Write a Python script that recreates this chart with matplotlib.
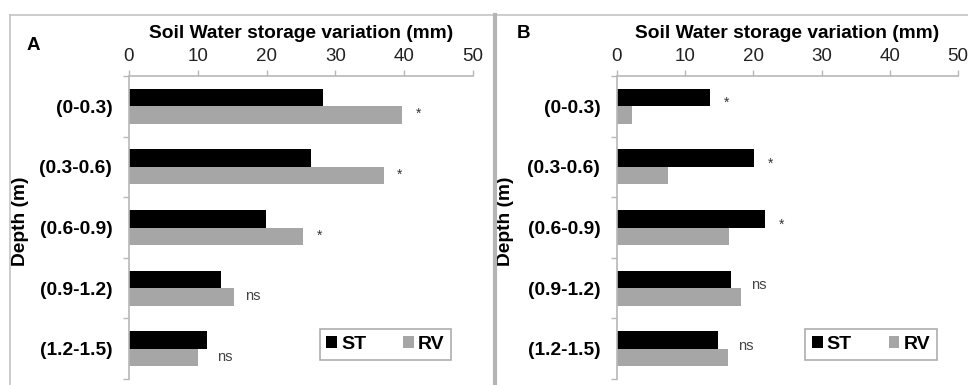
import matplotlib.pyplot as plt
import numpy as np
from matplotlib.lines import Line2D

plt.rcParams['font.family'] = ['Liberation Sans', 'DejaVu Sans']

# Data
depths = ['(0-0.3)', '(0.3-0.6)', '(0.6-0.9)', '(0.9-1.2)', '(1.2-1.5)']
st_a = [28.2, 26.5, 19.9, 13.3, 11.3]
rv_a = [39.7, 37.0, 25.3, 15.3, 10.0]
sig_a = ['*', '*', '*', 'ns', 'ns']
st_b = [13.6, 20.1, 21.7, 16.7, 14.8]
rv_b = [2.2, 7.5, 16.4, 18.2, 16.3]
sig_b = ['*', '*', '*', 'ns', 'ns']
xticks = [0, 10, 20, 30, 40, 50]

fig = plt.figure(figsize=(9.68, 3.85), dpi=100)
ax_a = fig.add_axes([129/968, 1 - 379/385, 344/968, 303/385])
ax_b = fig.add_axes([617/968, 1 - 379/385, 341/968, 303/385])

bar_h = 0.29
grey = '#a6a6a6'
axis_col = '#b8b8b8'


def draw_panel(ax, st, rv, sig, dy):
    y = np.arange(len(depths))
    ax.barh(y - bar_h/2, st, height=bar_h, color='black', label='ST')
    ax.barh(y + bar_h/2, rv, height=bar_h, color=grey, label='RV')
    for i, s in enumerate(sig):
        top = max(st[i], rv[i])
        if s == '*':
            ax.text(top + 2.0, i + dy, s, fontsize=10, ha='left', va='center', color='#333333')
        else:
            ax.text(top + 1.5, i + dy, s, fontsize=10.5, ha='left', va='center', color='#444444')
    ax.set_xlim(0, 50)
    ax.set_ylim(4.5, -0.5)
    ax.xaxis.tick_top()
    ax.xaxis.set_label_position('top')
    ax.set_xticks(xticks)
    ax.set_xlabel('Soil Water storage variation (mm)', fontsize=13.8, fontweight='bold', labelpad=7)
    ax.tick_params(axis='x', length=4, width=1, color=axis_col, pad=4, labelsize=13.5, labelcolor='#222222')
    ax.set_yticks(y)
    ax.set_yticklabels(depths, fontsize=13.8, fontweight='bold')
    ax.set_yticks(np.arange(-0.5, 5, 1), minor=True)
    ax.tick_params(axis='y', which='major', length=0, pad=12)
    ax.tick_params(axis='y', which='minor', length=4, width=1, color=axis_col)
    ax.set_ylabel('Depth (m)', fontsize=13.8, fontweight='bold')
    for side in ['right', 'bottom']:
        ax.spines[side].set_visible(False)
    for side in ['left', 'top']:
        ax.spines[side].set_color(axis_col)
        ax.spines[side].set_linewidth(1.2)
    leg = ax.legend(ncol=2, loc='center', bbox_to_anchor=(0.745, 0.114), frameon=True,
                    fancybox=False, edgecolor='#999999', handlelength=0.55, handleheight=0.55,
                    handletextpad=0.2, columnspacing=1.9, borderpad=0.35, borderaxespad=0,
                    prop={'weight': 'bold', 'size': 14})
    leg.get_frame().set_linewidth(1.2)


draw_panel(ax_a, st_a, rv_a, sig_a, 0.13)
draw_panel(ax_b, st_b, rv_b, sig_b, -0.05)
ax_a.yaxis.set_label_coords(-(129 - 29) / 344, 0.52)
ax_b.yaxis.set_label_coords(-(617 - 514) / 341, 0.52)

fig.text(33/968, 1 - 45/385, 'A', fontsize=13.5, fontweight='bold', ha='center', va='center')
fig.text(523/968, 1 - 33/385, 'B', fontsize=13.5, fontweight='bold', ha='center', va='center')

# panel frame lines
fig.add_artist(Line2D([10/968, 1], [1 - 15/385] * 2, transform=fig.transFigure, color='#c4c4c4', lw=1.2))
fig.add_artist(Line2D([10/968] * 2, [0, 1 - 15/385], transform=fig.transFigure, color='#c4c4c4', lw=1.2))
fig.add_artist(Line2D([494.5/968] * 2, [0, 1 - 15/385], transform=fig.transFigure, color='#b4b4b4', lw=3))

fig.savefig('out.png', dpi=100)
